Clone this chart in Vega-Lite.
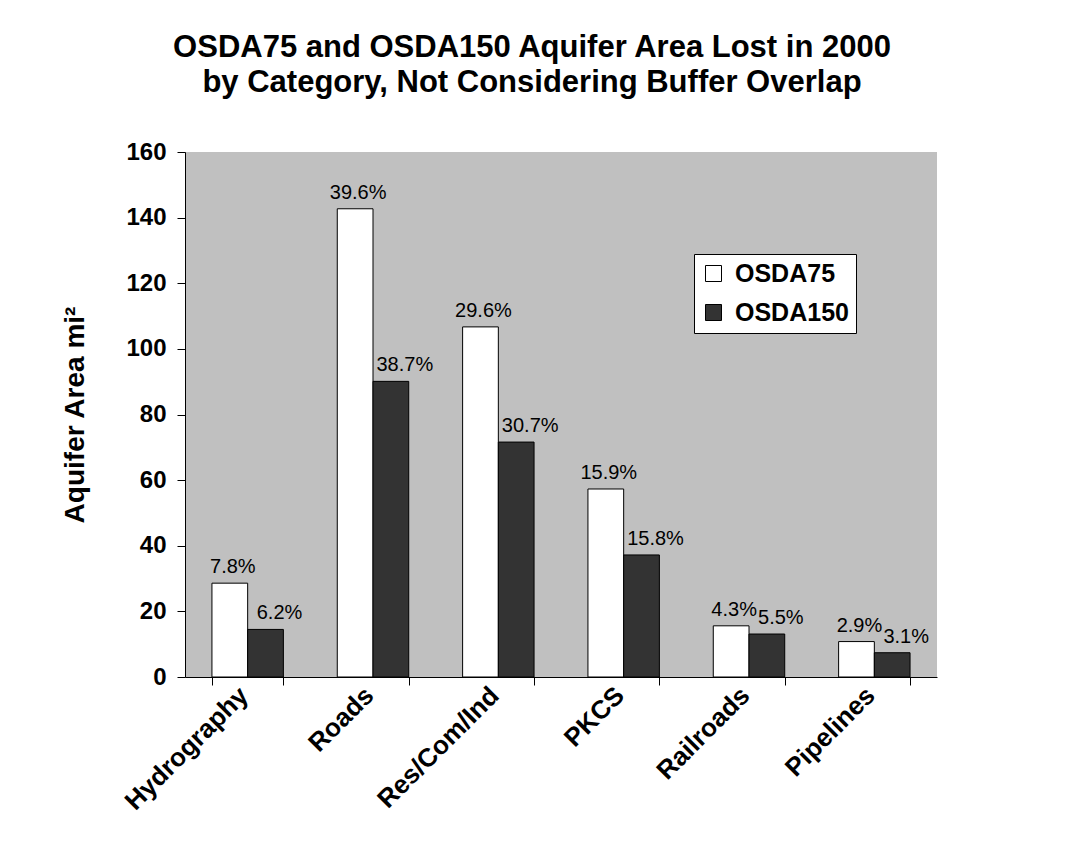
{
  "$schema": "https://vega.github.io/schema/vega-lite/v6.json",
  "autosize": {"type": "none"},
  "width": 752,
  "height": 525,
  "padding": {"left": 185, "top": 152, "right": 128, "bottom": 186},
  "background": "white",
  "title": {
    "text": ["OSDA75 and OSDA150 Aquifer Area Lost in 2000", "by Category, Not Considering Buffer Overlap"],
    "font": "Liberation Sans",
    "fontSize": 31,
    "fontWeight": "bold",
    "color": "black",
    "anchor": "middle",
    "dx": -29,
    "offset": 41,
    "lineHeight": 35
  },
  "config": {
    "view": {"fill": "#c0c0c0", "stroke": null},
    "font": "Liberation Sans"
  },
  "data": {
    "values": [
      {"Category": "Hydrography", "Series": "OSDA75", "Area": 28.6, "Pct": "7.8%"},
      {"Category": "Hydrography", "Series": "OSDA150", "Area": 14.5, "Pct": "6.2%"},
      {"Category": "Roads", "Series": "OSDA75", "Area": 142.7, "Pct": "39.6%"},
      {"Category": "Roads", "Series": "OSDA150", "Area": 90.1, "Pct": "38.7%"},
      {"Category": "Res/Com/Ind", "Series": "OSDA75", "Area": 106.7, "Pct": "29.6%"},
      {"Category": "Res/Com/Ind", "Series": "OSDA150", "Area": 71.6, "Pct": "30.7%"},
      {"Category": "PKCS", "Series": "OSDA75", "Area": 57.3, "Pct": "15.9%"},
      {"Category": "PKCS", "Series": "OSDA150", "Area": 37.2, "Pct": "15.8%"},
      {"Category": "Railroads", "Series": "OSDA75", "Area": 15.6, "Pct": "4.3%"},
      {"Category": "Railroads", "Series": "OSDA150", "Area": 13.1, "Pct": "5.5%"},
      {"Category": "Pipelines", "Series": "OSDA75", "Area": 10.8, "Pct": "2.9%"},
      {"Category": "Pipelines", "Series": "OSDA150", "Area": 7.4, "Pct": "3.1%"}
    ]
  },
  "encoding": {
    "x": {
      "field": "Category",
      "type": "nominal",
      "sort": ["Hydrography", "Roads", "Res/Com/Ind", "PKCS", "Railroads", "Pipelines"],
      "scale": {"paddingInner": 0.43, "paddingOuter": 0.215},
      "axis": {
        "title": null,
        "labelAngle": -45,
        "labelAlign": "right",
        "labelBaseline": "middle",
        "labelFontSize": 26,
        "labelFontWeight": "bold",
        "labelColor": "black",
        "labelPadding": 6,
        "labelOffset": -4,
        "tickBand": "extent",
        "tickSize": 8,
        "tickColor": "black",
        "domainColor": "black",
        "labelOverlap": false,
        "labelLimit": 400
      }
    },
    "xOffset": {"field": "Series", "type": "nominal", "sort": ["OSDA75", "OSDA150"]},
    "y": {
      "field": "Area",
      "type": "quantitative",
      "scale": {"domain": [0, 160], "nice": false},
      "axis": {
        "title": "Aquifer Area mi²",
        "titleFontSize": 28,
        "titleFontWeight": "bold",
        "titleColor": "black",
        "titlePadding": 36,
        "values": [0, 20, 40, 60, 80, 100, 120, 140, 160],
        "labelFontSize": 24,
        "labelFontWeight": "bold",
        "labelColor": "black",
        "labelPadding": 11,
        "tickSize": 8,
        "tickColor": "black",
        "domainColor": "black",
        "grid": false
      }
    }
  },
  "layer": [
    {
      "mark": {"type": "bar", "stroke": "black", "strokeWidth": 1},
      "encoding": {
        "fill": {
          "field": "Series",
          "type": "nominal",
          "sort": ["OSDA75", "OSDA150"],
          "scale": {"domain": ["OSDA75", "OSDA150"], "range": ["#ffffff", "#333333"]},
          "legend": {
            "title": null,
            "orient": "none",
            "legendX": 509,
            "legendY": 102,
            "fillColor": "white",
            "strokeColor": "black",
            "padding": 7,
            "symbolType": "square",
            "symbolSize": 256,
            "symbolStrokeColor": "black",
            "symbolStrokeWidth": 1,
            "labelFontSize": 25,
            "labelFontWeight": "bold",
            "labelColor": "black",
            "labelOffset": 9,
            "rowPadding": 13,
            "labelLimit": 300
          }
        }
      }
    },
    {
      "transform": [{"filter": "datum.Series === 'OSDA75'"}],
      "mark": {"type": "text", "baseline": "alphabetic", "dy": -10, "dx": 3, "fontSize": 20, "color": "black"},
      "encoding": {"text": {"field": "Pct"}}
    },
    {
      "transform": [{"filter": "datum.Series === 'OSDA150'"}],
      "mark": {"type": "text", "baseline": "alphabetic", "dy": -10, "dx": 14, "fontSize": 20, "color": "black"},
      "encoding": {"text": {"field": "Pct"}}
    }
  ]
}
